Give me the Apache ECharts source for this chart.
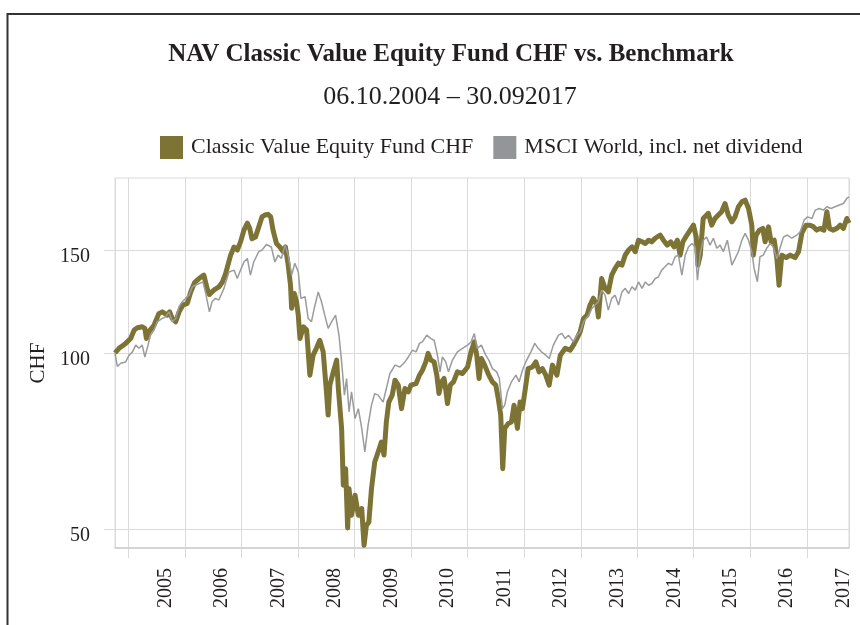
<!DOCTYPE html>
<html>
<head>
<meta charset="utf-8">
<script src="https://cdn.jsdelivr.net/npm/echarts@6/dist/echarts.min.js"></script>
<style>
  html, body { margin: 0; padding: 0; background: #fff; }
  #chart { width: 860px; height: 625px; }
</style>
</head>
<body>
<div id="chart"></div>
<script>
const yTicks = [50, 100, 150];
const seriesNames = ["Classic Value Equity Fund CHF", "MSCI World, incl. net dividend"];

// NAV rebased to 100 on 06.10.2004
const fundNav = [
  ['2004-10-06',100],['2004-11-01',101.8],['2004-12-14',103.8],['2005-01-15',105.8],['2005-02-07',109.4],
  ['2005-02-28',110.4],['2005-03-31',110.8],['2005-04-17',110.1],['2005-04-27',105.8],['2005-05-12',108.6],
  ['2005-06-15',111.5],['2005-07-16',116.7],['2005-08-07',117.5],['2005-09-09',116.0],['2005-09-24',117.5],
  ['2005-10-11',114.5],['2005-11-02',113.0],['2005-11-24',117.5],['2005-12-19',120.7],['2006-01-16',121.5],
  ['2006-02-07',127.1],['2006-03-05',132.0],['2006-04-04',134.1],['2006-05-03',135.8],['2006-05-24',128.9],
  ['2006-06-08',125.8],['2006-07-06',128.0],['2006-08-08',129.6],['2006-08-30',132.0],['2006-09-21',136.7],
  ['2006-10-23',146.9],['2006-11-14',151.7],['2006-12-05',149.9],['2006-12-26',154.8],['2007-01-17',162.1],
  ['2007-02-08',166.6],['2007-02-23',163.3],['2007-03-10',156.7],['2007-04-01',157.7],['2007-04-23',164.2],
  ['2007-05-14',170.8],['2007-06-01',172.0],['2007-06-22',172.5],['2007-07-09',170.8],['2007-07-24',162.1],
  ['2007-08-15',153.8],['2007-09-06',151.7],['2007-09-27',148.9],['2007-10-12',151.7],['2007-10-30',141.2],
  ['2007-11-14',130.5],['2007-11-21',119.2],['2007-12-08',126.3],['2007-12-23',122.3],['2008-01-03',116.0],
  ['2008-01-14',105.8],['2008-02-05',110.8],['2008-02-26',109.4],['2008-03-18',91.6],['2008-04-08',99.1],
  ['2008-04-29',101.8],['2008-05-21',105.1],['2008-06-12',100.4],['2008-07-03',85.8],['2008-07-14',78.3],
  ['2008-07-25',88.1],['2008-08-16',92.7],['2008-09-07',97.2],['2008-09-18',86.9],['2008-10-09',74.3],
  ['2008-10-20',59.4],['2008-11-04',63.4],['2008-11-17',50.2],['2008-11-26',58.6],['2008-12-12',52.8],
  ['2009-01-04',57.1],['2009-01-25',52.8],['2009-02-16',54.2],['2009-03-03',46.9],['2009-03-18',50.7],
  ['2009-04-03',51.4],['2009-04-20',58.6],['2009-05-11',65.1],['2009-06-02',67.7],['2009-06-23',70.4],
  ['2009-07-10',66.9],['2009-07-25',76.2],['2009-08-10',82.4],['2009-09-01',84.7],['2009-09-19',89.8],
  ['2009-10-10',88.1],['2009-10-31',80.3],['2009-11-22',86.9],['2009-12-14',85.8],['2009-12-31',88.1],
  ['2010-02-02',88.6],['2010-02-24',91.6],['2010-03-15',93.4],['2010-04-06',96.5],['2010-04-21',99.8],
  ['2010-05-09',97.2],['2010-05-30',96.5],['2010-06-16',91.6],['2010-06-30',85.2],['2010-07-16',89.2],
  ['2010-08-02',90.4],['2010-08-13',86.4],['2010-08-24',81.9],['2010-09-11',88.1],['2010-10-02',89.2],
  ['2010-10-27',92.8],['2010-11-29',92.2],['2011-01-01',94.6],['2011-01-23',100.4],['2011-02-13',104.4],
  ['2011-03-01',99.1],['2011-03-16',90.4],['2011-03-31',97.8],['2011-04-21',95.3],['2011-05-18',91.6],
  ['2011-06-10',89.2],['2011-07-02',88.1],['2011-07-18',83.6],['2011-08-03',78.3],['2011-08-16',63.4],
  ['2011-08-29',74.3],['2011-09-20',75.7],['2011-10-11',76.2],['2011-10-28',81.4],['2011-11-19',74.3],
  ['2011-12-06',82.4],['2011-12-21',80.3],['2012-01-06',85.8],['2012-01-27',94.0],['2012-02-24',94.6],
  ['2012-03-17',96.5],['2012-04-07',92.8],['2012-04-28',94.0],['2012-05-20',91.6],['2012-06-11',88.1],
  ['2012-07-02',95.3],['2012-07-31',91.6],['2012-08-22',99.1],['2012-09-23',101.8],['2012-10-25',101.1],
  ['2012-11-15',103.1],['2012-12-07',105.8],['2012-12-28',108.6],['2013-01-19',114.5],['2013-02-11',116.0],
  ['2013-03-02',120.7],['2013-03-23',124.0],['2013-04-15',120.7],['2013-04-25',115.2],['2013-05-16',134.0],
  ['2013-06-07',128.9],['2013-06-28',127.1],['2013-07-20',135.8],['2013-08-11',139.5],['2013-09-02',142.3],
  ['2013-09-24',141.2],['2013-10-15',146.9],['2013-11-06',149.9],['2013-11-28',151.7],['2013-12-19',148.9],
  ['2014-01-09',155.8],['2014-02-01',154.8],['2014-02-22',153.8],['2014-03-15',155.8],['2014-04-05',154.8],
  ['2014-04-27',157.0],['2014-05-29',159.0],['2014-06-19',155.8],['2014-07-14',152.8],['2014-08-05',154.8],
  ['2014-08-27',151.7],['2014-09-17',155.8],['2014-10-05',146.9],['2014-10-23',154.8],['2014-11-18',159.0],
  ['2014-12-09',162.1],['2014-12-30',165.3],['2015-01-17',157.7],['2015-01-28',141.2],['2015-02-12',146.9],
  ['2015-03-03',169.7],['2015-04-05',173.2],['2015-04-27',165.3],['2015-05-18',169.7],['2015-06-09',172.0],
  ['2015-06-30',174.3],['2015-07-22',180.0],['2015-08-12',172.0],['2015-09-04',167.5],['2015-09-25',170.8],
  ['2015-10-16',177.6],['2015-11-08',181.2],['2015-11-29',182.4],['2015-12-21',176.5],['2016-01-11',165.3],
  ['2016-01-21',146.9],['2016-02-08',159.0],['2016-02-29',162.1],['2016-03-22',163.2],['2016-04-06',154.8],
  ['2016-04-28',164.2],['2016-05-15',154.8],['2016-06-04',155.8],['2016-06-21',144.9],['2016-07-05',130.5],
  ['2016-07-23',146.9],['2016-08-20',145.5],['2016-09-15',146.9],['2016-10-17',145.5],['2016-11-08',148.9],
  ['2016-11-30',160.4],['2016-12-27',165.3],['2017-01-22',165.3],['2017-02-13',164.2],['2017-03-05',162.1],
  ['2017-03-27',163.2],['2017-04-21',162.1],['2017-05-10',174.3],['2017-05-27',163.2],['2017-06-18',162.1],
  ['2017-07-13',163.2],['2017-08-03',165.3],['2017-08-25',163.2],['2017-09-16',169.7],['2017-09-30',166.6]
];

const msciNav = [
  ['2004-10-06',100],['2004-10-21',94.8],['2004-11-12',96.0],['2004-12-14',96.5],['2005-01-05',99.1],
  ['2005-01-27',100.4],['2005-02-17',103.1],['2005-03-10',101.8],['2005-03-31',103.1],['2005-04-17',98.4],
  ['2005-05-02',101.8],['2005-05-23',107.2],['2005-06-15',109.4],['2005-07-06',113.0],['2005-08-07',114.5],
  ['2005-08-29',115.2],['2005-09-20',117.5],['2005-10-11',113.0],['2005-11-02',114.5],['2005-11-24',120.0],
  ['2005-12-15',122.3],['2006-01-05',123.9],['2006-01-27',125.5],['2006-02-18',129.7],['2006-03-09',130.5],
  ['2006-04-04',131.4],['2006-04-27',132.2],['2006-05-13',127.1],['2006-06-08',117.5],['2006-06-25',122.3],
  ['2006-07-17',123.9],['2006-08-08',123.1],['2006-09-10',128.9],['2006-10-12',137.5],['2006-11-14',138.5],
  ['2006-12-05',134.0],['2006-12-26',138.5],['2007-01-17',143.0],['2007-02-08',145.0],['2007-02-28',135.8],
  ['2007-03-21',143.0],['2007-04-23',148.9],['2007-05-14',149.9],['2007-06-11',153.2],['2007-07-13',151.7],
  ['2007-08-05',143.0],['2007-08-26',146.9],['2007-09-16',145.0],['2007-10-09',152.8],['2007-10-30',146.9],
  ['2007-11-21',135.8],['2007-12-12',142.3],['2008-01-03',137.5],['2008-01-20',123.9],['2008-02-16',124.7],
  ['2008-03-07',114.5],['2008-03-28',113.0],['2008-04-15',119.1],['2008-05-11',127.1],['2008-06-01',122.3],
  ['2008-06-22',116.0],['2008-07-14',110.1],['2008-08-05',113.0],['2008-08-31',116.0],['2008-09-22',107.2],
  ['2008-10-09',96.5],['2008-10-27',84.7],['2008-11-10',90.4],['2008-11-26',79.3],['2008-12-12',85.8],
  ['2009-01-04',77.2],['2009-01-25',80.3],['2009-02-16',74.3],['2009-03-08',67.7],['2009-03-29',75.2],
  ['2009-04-20',81.4],['2009-05-11',85.2],['2009-06-02',84.7],['2009-07-04',82.4],['2009-07-25',86.9],
  ['2009-08-17',92.2],['2009-09-19',95.3],['2009-10-21',94.6],['2009-11-22',96.5],['2009-12-14',98.4],
  ['2010-01-10',101.1],['2010-02-02',100.4],['2010-02-24',103.8],['2010-03-15',104.4],['2010-04-12',107.2],
  ['2010-05-09',105.8],['2010-05-30',105.1],['2010-06-20',99.1],['2010-07-07',92.8],['2010-07-22',98.4],
  ['2010-08-13',96.5],['2010-08-30',92.8],['2010-09-25',97.2],['2010-10-27',100.4],['2010-11-29',101.8],
  ['2011-01-01',103.1],['2011-01-23',104.4],['2011-02-13',107.9],['2011-03-04',101.8],['2011-03-31',103.1],
  ['2011-04-28',99.1],['2011-05-18',97.2],['2011-06-10',94.0],['2011-07-08',92.8],['2011-07-25',90.4],
  ['2011-08-14',80.3],['2011-08-29',81.4],['2011-09-15',85.8],['2011-10-11',89.2],['2011-11-09',91.6],
  ['2011-11-30',89.2],['2011-12-21',93.4],['2012-01-12',96.5],['2012-02-14',100.4],['2012-03-10',103.8],
  ['2012-04-01',101.8],['2012-04-22',100.4],['2012-05-20',99.1],['2012-06-11',97.8],['2012-07-08',103.1],
  ['2012-08-10',107.2],['2012-09-01',108.0],['2012-09-23',105.8],['2012-10-14',107.2],['2012-11-15',104.4],
  ['2012-12-07',107.2],['2012-12-28',108.6],['2013-01-19',113.0],['2013-02-21',116.0],['2013-03-14',119.1],
  ['2013-04-04',120.7],['2013-04-25',122.3],['2013-05-16',128.0],['2013-06-07',125.5],['2013-06-28',118.3],
  ['2013-07-20',123.9],['2013-08-11',125.5],['2013-09-02',120.7],['2013-09-24',127.1],['2013-10-15',128.9],
  ['2013-11-06',126.3],['2013-11-28',129.7],['2013-12-19',128.0],['2014-01-09',132.2],['2014-02-01',128.9],
  ['2014-02-22',132.2],['2014-03-15',130.5],['2014-04-05',131.4],['2014-04-27',134.0],['2014-05-17',134.8],
  ['2014-06-08',138.5],['2014-06-29',140.3],['2014-07-21',142.3],['2014-08-12',141.2],['2014-09-03',146.0],
  ['2014-09-24',146.9],['2014-10-16',135.8],['2014-11-07',146.9],['2014-11-28',151.7],['2014-12-20',153.8],
  ['2015-01-10',151.7],['2015-01-25',133.1],['2015-02-12',148.0],['2015-03-03',155.8],['2015-03-25',157.7],
  ['2015-04-16',152.8],['2015-05-08',157.0],['2015-05-30',150.9],['2015-06-20',152.8],['2015-07-11',148.9],
  ['2015-08-06',155.8],['2015-08-24',146.9],['2015-09-04',141.2],['2015-09-25',144.9],['2015-10-16',148.9],
  ['2015-11-08',155.8],['2015-11-29',160.0],['2015-12-21',155.8],['2016-01-11',148.9],['2016-01-26',139.4],
  ['2016-02-16',132.3],['2016-03-04',146.0],['2016-03-25',146.9],['2016-04-16',150.9],['2016-05-08',153.8],
  ['2016-05-29',151.7],['2016-06-21',144.9],['2016-07-11',150.9],['2016-08-02',157.7],['2016-08-28',159.0],
  ['2016-09-26',157.0],['2016-10-28',159.0],['2016-11-19',161.0],['2016-12-14',168.6],['2017-01-05',170.8],
  ['2017-02-03',169.7],['2017-02-24',175.4],['2017-03-22',176.5],['2017-04-17',175.4],['2017-05-10',177.7],
  ['2017-06-05',176.5],['2017-07-02',177.7],['2017-07-30',178.9],['2017-08-25',180.0],['2017-09-16',183.6],
  ['2017-09-30',184.8]
];

const chart = echarts.init(document.getElementById('chart'));

const serif = 'Liberation Serif';
const textColor = '#231f20';
const gridColor = '#dadada';
const yearMs = 365 * 24 * 3600 * 1000;

const option = {
  animation: false,
  backgroundColor: '#fff',
  textStyle: { fontFamily: serif },
  title: [
    {
      text: 'NAV Classic Value Equity Fund CHF vs. Benchmark',
      left: 451, top: 42, textAlign: 'center', padding: 0,
      textStyle: { fontFamily: serif, fontSize: 25, fontWeight: 'bold', color: textColor }
    },
    {
      text: '06.10.2004 \u2013 30.092017',
      left: 450, top: 84, textAlign: 'center', padding: 0,
      textStyle: { fontFamily: serif, fontSize: 26, fontWeight: 'normal', color: textColor }
    }
  ],
  legend: {
    left: 160, top: 136, padding: 0,
    itemWidth: 23, itemHeight: 23, itemGap: 20,
    icon: 'rect',
    textStyle: { fontFamily: serif, fontSize: 22, color: textColor, padding: [0, 0, 0, 3] },
    data: seriesNames
  },
  grid: {
    left: 115, right: 11, top: 178, bottom: 77,
    show: true, borderColor: gridColor, borderWidth: 1
  },
  xAxis: {
    type: 'time',
    min: +new Date(2004, 9, 6),
    max: +new Date(2017, 8, 30),
    splitNumber: 13,
    minInterval: yearMs,
    axisLine: { show: true, lineStyle: { color: '#cccccc', width: 1.5 } },
    axisTick: { show: true, length: 10, lineStyle: { color: gridColor } },
    splitLine: { show: true, lineStyle: { color: gridColor, width: 1 } },
    axisLabel: {
      rotate: 90, margin: 20, padding: [74, 0, 0, 0],
      fontFamily: serif, fontSize: 20, color: textColor,
      formatter: v => String(new Date(v).getFullYear())
    }
  },
  yAxis: {
    type: 'log',
    min: 46.4, max: 199,
    name: 'CHF', nameLocation: 'middle', nameGap: 62,
    nameTextStyle: { fontFamily: serif, fontSize: 21, color: textColor },
    axisLine: { show: false },
    axisTick: { show: true, customValues: yTicks, length: 11, lineStyle: { color: gridColor } },
    splitLine: { show: true, lineStyle: { color: gridColor, width: 1 } },
    axisLabel: {
      customValues: yTicks, margin: 25,
      verticalAlign: 'top', lineHeight: 14,
      fontFamily: serif, fontSize: 20, color: textColor
    }
  },
  series: [
    {
      name: seriesNames[0], type: 'line', data: fundNav,
      showSymbol: false, symbol: 'none',
      color: '#7d7335',
      lineStyle: { color: '#7d7335', width: 5, join: 'round' }
    },
    {
      name: seriesNames[1], type: 'line', data: msciNav,
      showSymbol: false, symbol: 'none',
      color: '#939598',
      lineStyle: { color: '#999b9d', width: 1.5 }
    }
  ],
  graphic: [
    {
      type: 'rect', z: 100, silent: true,
      shape: { x: 7.5, y: 14, width: 1000, height: 1000 },
      style: { fill: 'none', stroke: '#333333', lineWidth: 2 }
    }
  ]
};

chart.setOption(option);
</script>
</body>
</html>
